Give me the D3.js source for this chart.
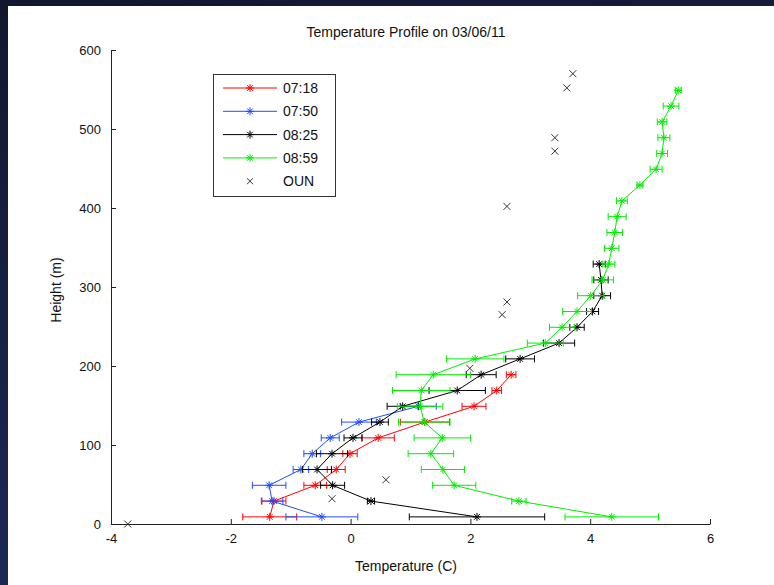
<!DOCTYPE html>
<html>
<head>
<meta charset="utf-8">
<script src="https://cdn.jsdelivr.net/npm/d3@7"></script>
<style>
  html, body { margin: 0; padding: 0; }
  body { width: 774px; height: 585px; overflow: hidden;
         background: linear-gradient(170deg, #12172f 0%, #182147 50%, #1f2b5c 100%); }
  svg { display: block; }
  text { font-family: "Liberation Sans", Arial, sans-serif; fill: #111; }
</style>
</head>
<body>
<div id="chart"></div>
<script>
// profile heights (m), shared by all the runs
var heights = [9, 29, 49, 69, 89, 109, 129, 149, 169, 189, 209, 229, 249, 269,
               289, 309, 329, 349, 369, 389, 409, 429, 449, 469, 489, 509, 529, 549];

var t0718 = [-1.35, -1.28, -0.59, -0.24, -0.01, 0.46, 1.24, 2.06, 2.44, 2.68];
var e0718 = [0.45, 0.2, 0.19, 0.15, 0.12, 0.27, 0.41, 0.2, 0.08, 0.08];

var t0750 = [-0.48, -1.31, -1.36, -0.83, -0.64, -0.34, 0.14, 1.13];
var e0750 = [0.6, 0.18, 0.28, 0.13, 0.14, 0.15, 0.29, 0.3];

var t0825 = [2.11, 0.34, -0.3, -0.56, -0.31, 0.04, 0.49, 0.87, 1.78, 2.18, 2.83,
             3.48, 3.78, 4.04, 4.2, 4.18, 4.15];
var e0825 = [1.13, 0.06, 0.2, 0.24, 0.26, 0.15, 0.14, 0.26, 0.47, 0.25, 0.24,
             0.26, 0.12, 0.1, 0.14, 0.12, 0.1];

var t0859 = [4.36, 2.81, 1.73, 1.54, 1.34, 1.53, 1.23, 1.16, 1.18, 1.38, 2.08, 3.25,
             3.53, 3.78, 4.01, 4.21, 4.31, 4.36, 4.41, 4.45, 4.53, 4.83, 5.1, 5.2,
             5.23, 5.2, 5.35, 5.47];
var e0859 = [0.78, 0.12, 0.36, 0.36, 0.38, 0.47, 0.43, 0.38, 0.48, 0.62, 0.48, 0.3,
             0.21, 0.24, 0.22, 0.18, 0.1, 0.12, 0.13, 0.15, 0.09, 0.05, 0.1, 0.09,
             0.1, 0.08, 0.13, 0.05];

// OUN sounding
var ounTemp = [-3.72, -0.31, 0.59, 1.99, 2.53, 2.61, 2.61, 3.41, 3.41, 3.61, 3.71];
var ounHeight = [0, 32, 56, 197, 265, 281, 402, 472, 489, 552, 570];

var xTicks = [-4, -2, 0, 2, 4, 6];
var yTicks = [0, 100, 200, 300, 400, 500, 600];

var seriesNames = ["07:18", "07:50", "08:25", "08:59"];
var seriesColors = ["#ff0000", "#1f4dff", "#000000", "#00ee00"];
var seriesTemps = [t0718, t0750, t0825, t0859];
var seriesErrs = [e0718, e0750, e0825, e0859];

var width = 774, height = 585;

var svg = d3.select("#chart").append("svg")
    .attr("width", width)
    .attr("height", height);

// white figure panel
svg.append("rect")
    .attr("x", 8).attr("y", 6)
    .attr("width", width - 8).attr("height", height - 6)
    .attr("fill", "#fff");

var x = d3.scaleLinear().domain([-4, 6]).range([111, 710]);
var y = d3.scaleLinear().domain([0, 600]).range([524, 50]);

function star(r) {
  var d = r * 0.707;
  return "M" + (-r) + ",0H" + r + "M0," + (-r) + "V" + r +
         "M" + (-d) + "," + (-d) + "L" + d + "," + d +
         "M" + (-d) + "," + d + "L" + d + "," + (-d);
}
function cross(r) {
  return "M" + (-r) + "," + (-r) + "L" + r + "," + r +
         "M" + (-r) + "," + r + "L" + r + "," + (-r);
}

var plot = svg.append("g");

seriesNames.forEach(function(name, s) {
  var data = seriesTemps[s].map(function(t, i) {
    return { t: t, h: heights[i], e: seriesErrs[s][i] };
  });
  var g = plot.append("g")
      .style("stroke", seriesColors[s])
      .style("fill", "none")
      .style("stroke-width", "1px");

  // error bars
  var eb = g.selectAll(".eb").data(data).enter().append("g").attr("class", "eb");
  eb.append("line")
      .attr("x1", function(d) { return x(d.t - d.e); })
      .attr("x2", function(d) { return x(d.t + d.e); })
      .attr("y1", function(d) { return y(d.h); })
      .attr("y2", function(d) { return y(d.h); });
  [-1, 1].forEach(function(sgn) {
    eb.append("line")
        .attr("x1", function(d) { return x(d.t + sgn * d.e); })
        .attr("x2", function(d) { return x(d.t + sgn * d.e); })
        .attr("y1", function(d) { return y(d.h) - 3.5; })
        .attr("y2", function(d) { return y(d.h) + 3.5; });
  });

  var line = d3.line()
      .x(function(d) { return x(d.t); })
      .y(function(d) { return y(d.h); });
  g.append("path").datum(data).attr("d", line);

  g.selectAll(".mk").data(data).enter().append("path")
      .attr("class", "mk")
      .attr("transform", function(d) { return "translate(" + x(d.t) + "," + y(d.h) + ")"; })
      .attr("d", star(4));
});

// OUN crosses
plot.selectAll(".oun").data(ounTemp).enter().append("path")
    .attr("class", "oun")
    .attr("transform", function(d, i) { return "translate(" + x(d) + "," + y(ounHeight[i]) + ")"; })
    .attr("d", cross(3.5))
    .style("stroke", "#333")
    .style("stroke-width", "1px")
    .style("fill", "none");

// axes, ticks pointing inward, plain hyphen for negatives like matlab
var fmt = function(d) { return String(d); };
var xAxis = svg.append("g").attr("transform", "translate(0," + y(0) + ")")
    .call(d3.axisBottom(x).tickValues(xTicks).tickFormat(fmt)
      .tickSize(-5).tickSizeOuter(0).tickPadding(10));
var yAxis = svg.append("g").attr("transform", "translate(" + x(-4) + ",0)")
    .call(d3.axisLeft(y).tickValues(yTicks).tickFormat(fmt)
      .tickSize(-5).tickSizeOuter(0).tickPadding(10));
[xAxis, yAxis].forEach(function(a) {
  a.select(".domain").style("stroke", "#222");
  a.selectAll(".tick line").style("stroke", "#222");
  a.selectAll(".tick text")
      .style("font-family", "'Liberation Sans', Arial, sans-serif")
      .style("font-size", "13px").style("fill", "#111");
});

svg.append("text")
    .attr("x", 406).attr("y", 37)
    .attr("text-anchor", "middle")
    .style("font-size", "14px")
    .text("Temperature Profile on 03/06/11");

svg.append("text")
    .attr("x", 406).attr("y", 571)
    .attr("text-anchor", "middle")
    .style("font-size", "14px")
    .text("Temperature (C)");

svg.append("text")
    .attr("transform", "translate(61,290) rotate(-90)")
    .attr("text-anchor", "middle")
    .style("font-size", "14px")
    .text("Height (m)");

// legend
var legend = svg.append("g");
legend.append("rect")
    .attr("x", 213.5).attr("y", 74.5)
    .attr("width", 122).attr("height", 122)
    .attr("fill", "#fff").attr("stroke", "#333");

var legendRows = seriesNames.concat(["OUN"]);
legendRows.forEach(function(name, i) {
  var ly = 88 + i * 23.3;
  var row = legend.append("g").attr("transform", "translate(0," + ly + ")");
  if (i < seriesNames.length) {
    row.append("line").attr("x1", 223).attr("x2", 277).attr("y1", 0).attr("y2", 0)
        .style("stroke", seriesColors[i]);
    row.append("path").attr("transform", "translate(250,0)").attr("d", star(4))
        .style("stroke", seriesColors[i]).style("fill", "none");
  } else {
    row.append("path").attr("transform", "translate(250,0)").attr("d", cross(3))
        .style("stroke", "#333").style("fill", "none");
  }
  row.append("text").attr("x", 283).attr("y", 5)
      .style("font-size", "14px")
      .text(name);
});
</script>
</body>
</html>
